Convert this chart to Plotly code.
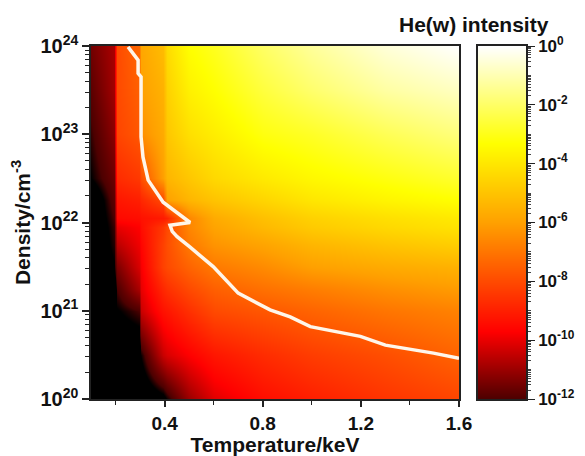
import plotly.graph_objects as go

# Reference data
temperature_kev = [0.1, 0.195, 0.205, 0.295, 0.305, 0.395, 0.41, 0.5, 0.6, 0.8, 1.0, 1.3, 1.6]
log_density = [20, 20.5, 21, 21.25, 21.5, 21.75, 21.95, 22.05, 22.25, 22.5, 23, 23.5, 24]
log_intensity = [
    [-13.0, -13.0, -13.0, -13.0, -13.0, -12.6, -12.3, -11.0, -10.1, -9.4, -9.0, -8.5, -8.1],
    [-13.0, -13.0, -13.0, -13.0, -12.3, -10.4, -10.2, -9.7, -9.2, -8.7, -8.3, -7.9, -7.4],
    [-13.0, -13.0, -12.4, -12.0, -10.4, -9.3, -9.2, -8.6, -8.0, -7.7, -7.4, -7.0, -6.7],
    [-13.0, -13.0, -12.0, -10.8, -10.0, -8.8, -8.6, -8.0, -7.5, -7.1, -6.8, -6.4, -6.1],
    [-13.0, -12.4, -11.4, -10.2, -9.8, -8.2, -8.0, -7.4, -6.9, -6.5, -6.0, -5.7, -5.5],
    [-13.0, -12.2, -10.6, -9.9, -9.6, -8.2, -7.9, -6.9, -6.3, -5.9, -5.4, -5.0, -4.7],
    [-13.0, -12.1, -10.0, -9.7, -9.4, -8.4, -8.0, -6.6, -5.9, -5.3, -4.8, -4.4, -4.1],
    [-13.0, -12.0, -9.5, -9.4, -9.3, -9.1, -8.9, -6.6, -5.7, -5.1, -4.6, -4.2, -3.9],
    [-13.0, -11.8, -9.2, -9.0, -8.8, -8.0, -6.0, -5.4, -5.0, -4.5, -4.0, -3.6, -3.3],
    [-12.35, -11.6, -8.7, -8.4, -7.9, -6.0, -5.4, -4.9, -4.4, -3.9, -3.5, -3.1, -2.7],
    [-12.1, -11.2, -8.1, -7.7, -6.4, -5.7, -4.9, -4.2, -3.8, -3.1, -2.8, -2.2, -1.7],
    [-11.8, -10.9, -8.0, -7.5, -6.0, -5.5, -4.6, -3.7, -3.3, -2.5, -1.9, -1.2, -0.8],
    [-11.5, -10.8, -8.0, -7.3, -5.8, -5.2, -4.3, -3.3, -2.9, -2.0, -1.3, -0.5, 0.0],
]

colorbar_log_intensity = [-12, 0]

line_temperature = [0.251, 0.292, 0.292, 0.304, 0.304, 0.312, 0.333, 0.394, 0.504, 0.422,
                    0.431, 0.451, 0.504, 0.598, 0.70, 0.83, 0.912, 0.994, 1.198, 1.30, 1.496, 1.60]
line_log_density = [23.99, 23.84, 23.69, 23.65, 22.97, 22.74, 22.48, 22.23, 22.0, 21.97,
                    21.90, 21.84, 21.72, 21.50, 21.20, 21.01, 20.93, 20.82, 20.71, 20.61, 20.52, 20.46]

x_ticks = [0.4, 0.8, 1.2, 1.6]
x_tick_labels = ["0.4", "0.8", "1.2", "1.6"]
colorbar_ticks = [1e-12, 1e-10, 1e-8, 1e-6, 1e-4, 1e-2, 1]
colorbar_tick_labels = ["10<sup>-12</sup>", "10<sup>-10</sup>", "10<sup>-8</sup>", "10<sup>-6</sup>",
                        "10<sup>-4</sup>", "10<sup>-2</sup>", "10<sup>0</sup>"]
density_ticks = [1e20, 1e21, 1e22, 1e23, 1e24]
density_tick_labels = ["10<sup>20</sup>", "10<sup>21</sup>", "10<sup>22</sup>", "10<sup>23</sup>", "10<sup>24</sup>"]
colorbar_title = "He(w) intensity"
x_title = "Temperature/keV"
y_title = "Density/cm<sup>-3</sup>"

ZMIN, ZMAX = -13, 0
stops = [(-13, "#000000"), (-12.35, "#000000"), (-12, "#4c0000"), (-9.7, "#ff0000"),
         (-6, "#ffa000"), (-3.3, "#ffff00"), (0, "#ffffff")]
colorscale = [[(v - ZMIN) / (ZMAX - ZMIN), c] for v, c in stops]

FONT = "Liberation Sans"
tickfont = dict(family=FONT, size=20, color="#111111", weight=700)
xtickfont = dict(family=FONT, size=19, color="#111111", weight=700)
bartickfont = dict(family=FONT, size=17, color="#111111", weight=700)
titlefont = dict(family=FONT, size=21, color="#111111", weight=700)

fig = go.Figure()
fig.add_trace(go.Heatmap(
    x=temperature_kev, y=[10.0 ** v for v in log_density], z=log_intensity,
    colorscale=colorscale, zmin=ZMIN, zmax=ZMAX, zsmooth="best", showscale=False,
    xaxis="x", yaxis="y"))
fig.add_trace(go.Scatter(
    x=line_temperature, y=[10.0 ** v for v in line_log_density], mode="lines",
    line=dict(color="#fff6ea", width=3.5), showlegend=False, xaxis="x", yaxis="y"))
fig.add_trace(go.Heatmap(
    x=[0, 1], y=[10.0 ** v for v in colorbar_log_intensity],
    z=[[v, v] for v in colorbar_log_intensity],
    colorscale=colorscale, zmin=ZMIN, zmax=ZMAX, zsmooth="best", showscale=False,
    xaxis="x2", yaxis="y2"))

# The page body adds an 8 px margin, so the figure is 8 px smaller and shifted.
fig.update_layout(
    width=577, height=448, autosize=False,
    margin=dict(l=83, r=59, t=38, b=57),
    paper_bgcolor="white", plot_bgcolor="white", showlegend=False,
    xaxis=dict(domain=[0, 368 / 435], range=[0.1, 1.6], tickvals=x_ticks, ticktext=x_tick_labels,
               automargin=False,
               ticks="outside", ticklen=6, tickwidth=1.5, tickcolor="#222", tickfont=xtickfont,
               showline=True, linecolor="#222", linewidth=1.5, mirror=True, showgrid=False, zeroline=False,
               minor=dict(tickvals=[0.2, 0.6, 1.0, 1.4], ticks="outside", ticklen=4, tickwidth=1.2, tickcolor="#222", showgrid=False),
               title=dict(text=x_title, font=titlefont, standoff=0), anchor="y"),
    yaxis=dict(domain=[0, 1], type="log", range=[20, 24], tickvals=density_ticks, ticktext=density_tick_labels,
               automargin=False,
               ticks="outside", ticklen=7, tickwidth=1.5, tickcolor="#222", tickfont=tickfont,
               showline=True, linecolor="#222", linewidth=1.5, mirror=True, showgrid=False,
               minor=dict(dtick="D1", ticks="outside", ticklen=4, tickwidth=1, tickcolor="#222", showgrid=False),
               title=dict(text=y_title, font=titlefont, standoff=5), anchor="x"),
    xaxis2=dict(domain=[387 / 435, 1], range=[0, 1], showticklabels=False, ticks="", showgrid=False,
                automargin=False,
                zeroline=False, showline=True, linecolor="#222", linewidth=1.5, mirror=True, anchor="y2"),
    yaxis2=dict(domain=[0, 1], type="log", range=[-12, 0], tickvals=colorbar_ticks, ticktext=colorbar_tick_labels,
                side="right", automargin=False,
                ticks="outside", ticklen=7, tickwidth=1.2, tickcolor="#222", tickfont=bartickfont,
                showline=True, linecolor="#222", linewidth=1.5, mirror=True, showgrid=False,
                minor=dict(dtick="D1", ticks="outside", ticklen=3, tickwidth=0.7, tickcolor="#444", showgrid=False),
                anchor="x2"),
    annotations=[dict(text=colorbar_title, xref="paper", yref="paper", x=(551 - 91) / 435, y=1,
                      xanchor="right", yanchor="bottom", yshift=8, showarrow=False,
                      font=dict(family=FONT, size=21, color="#111111", weight=700))],
)
fig.write_html("out.html")
